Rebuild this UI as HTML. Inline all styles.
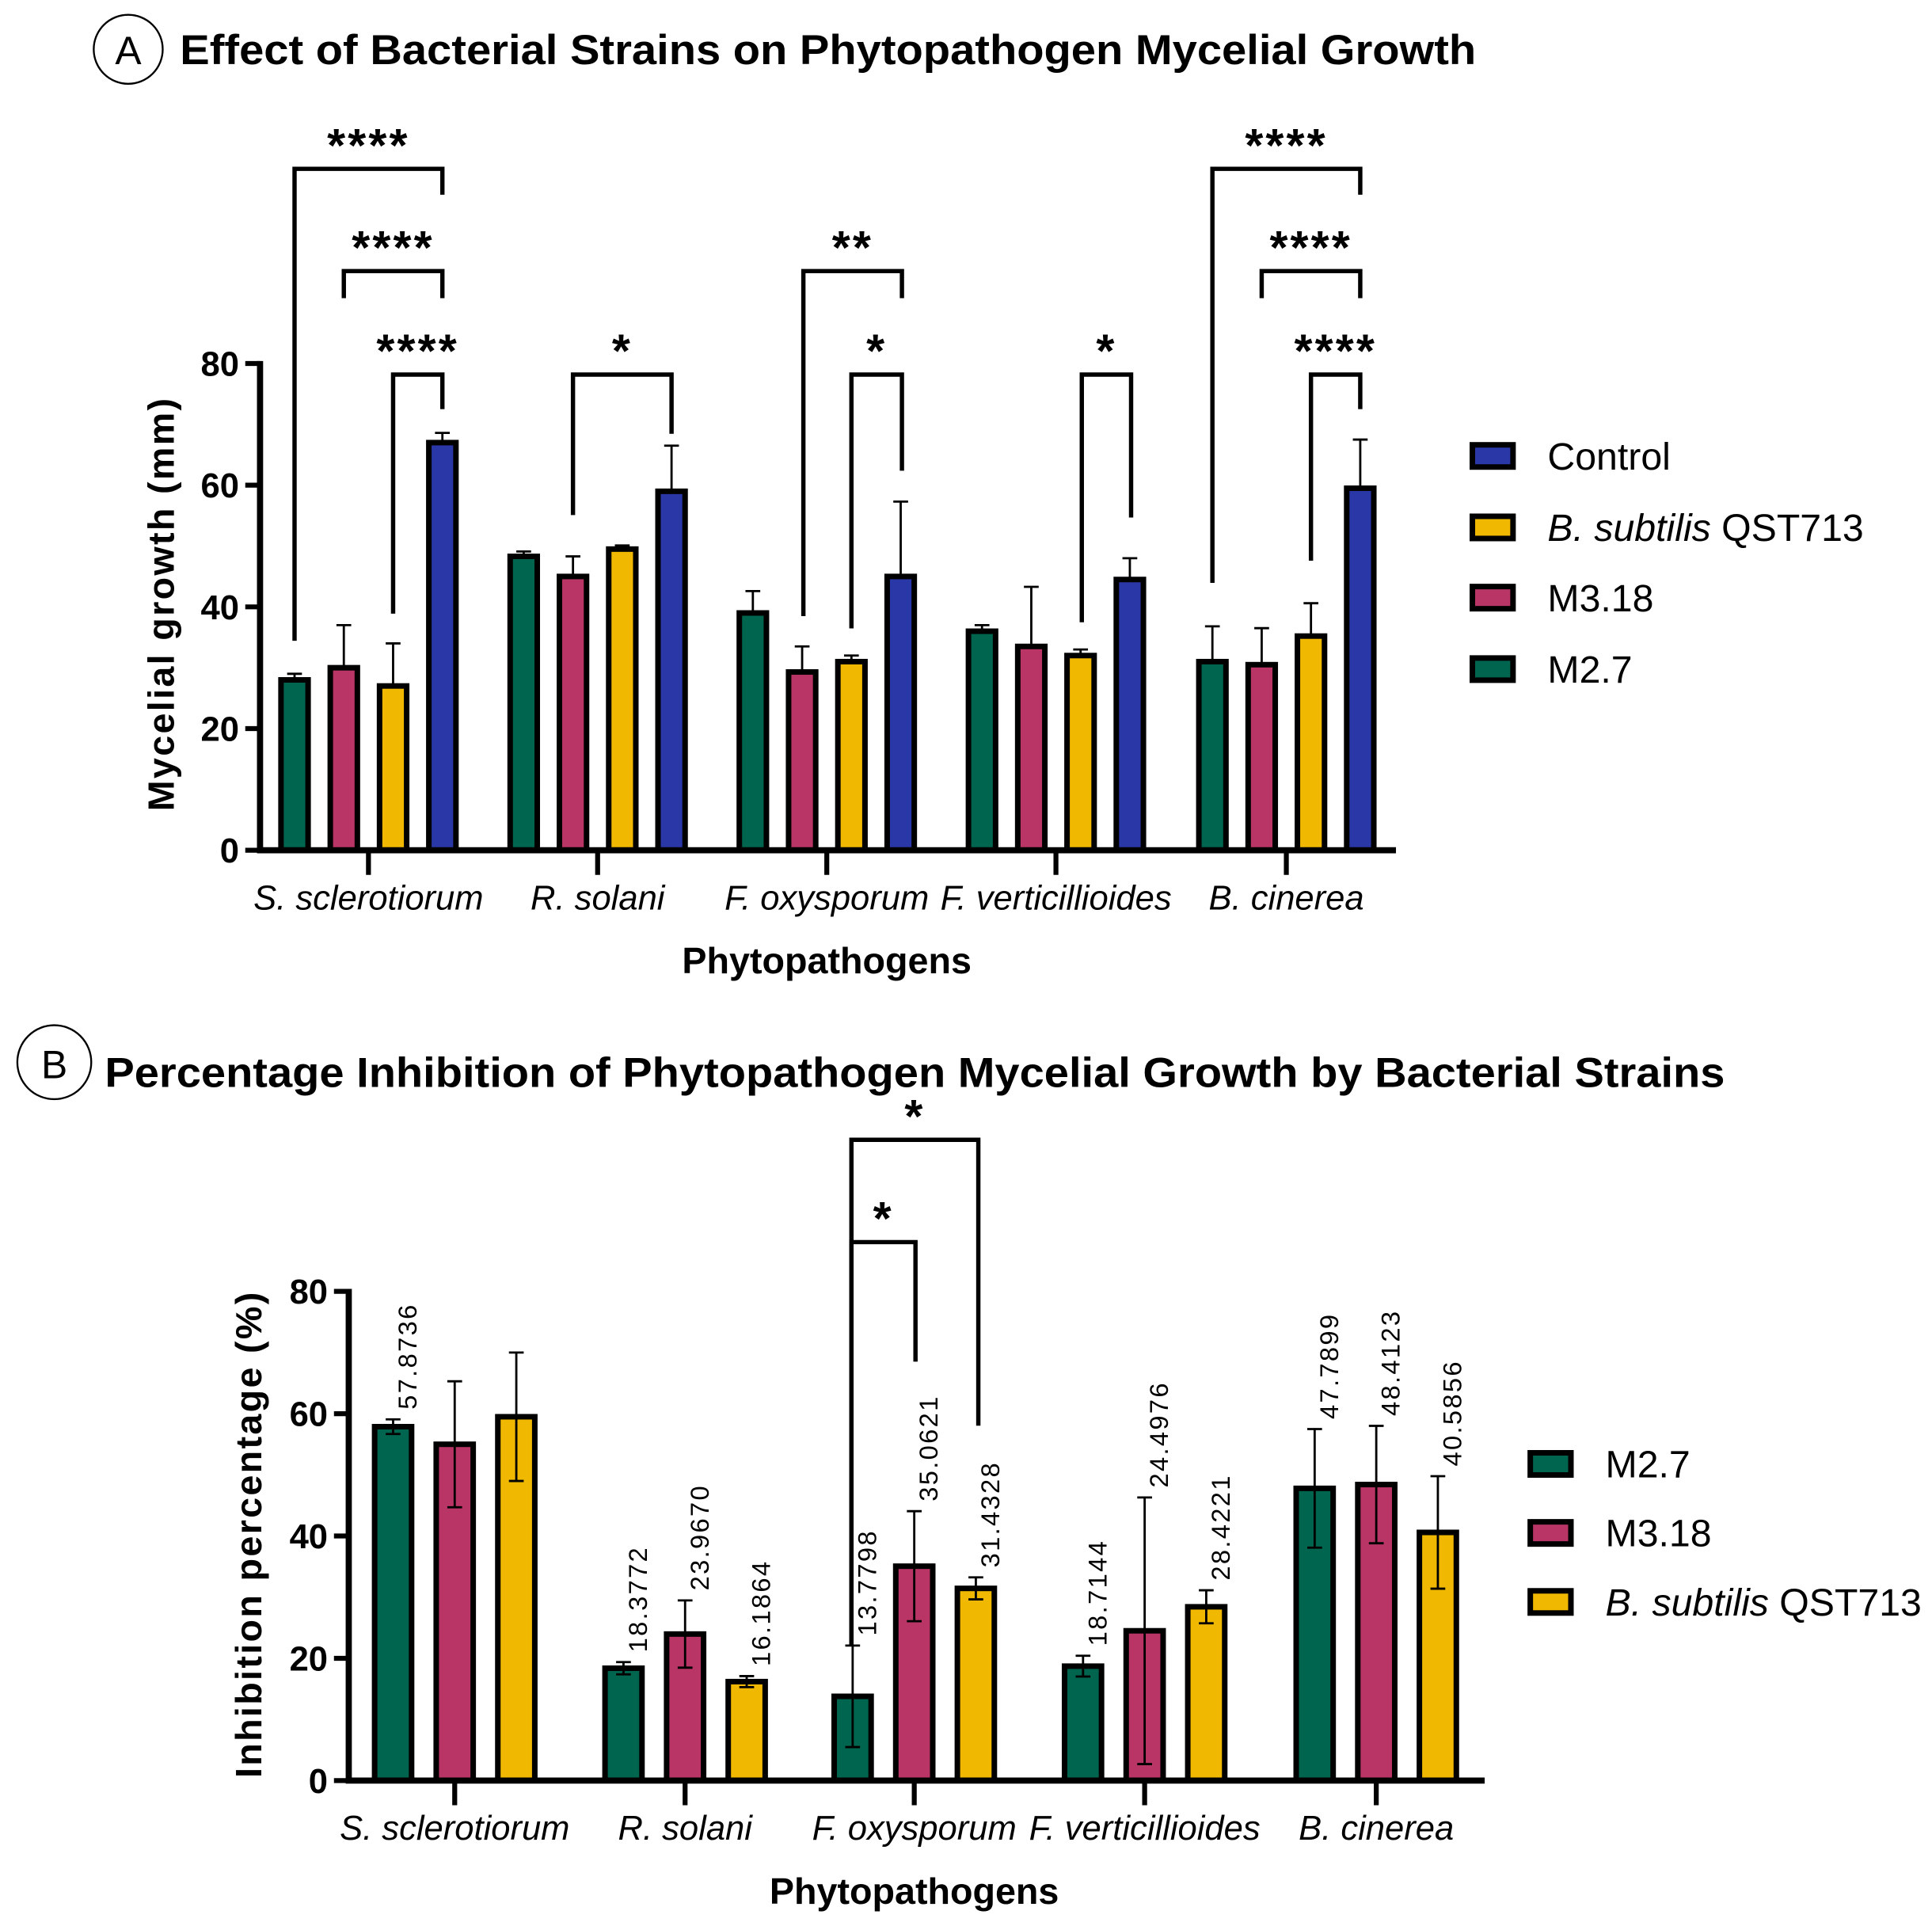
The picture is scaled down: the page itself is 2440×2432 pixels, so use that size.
<!DOCTYPE html>
<html><head><meta charset="utf-8"><style>
html,body{margin:0;padding:0;background:#fff}
svg{display:block}
text{font-family:"Liberation Sans",sans-serif;fill:#000}
</style></head><body>
<svg id="chart" width="2440" height="2432" viewBox="0 0 1568 1563" xmlns="http://www.w3.org/2000/svg">
<g>
<circle cx="104" cy="40" r="28" fill="none" stroke="#000" stroke-width="1.5"/>
<text x="104" y="52" font-size="32" text-anchor="middle">A</text>
<text x="146" y="52" font-size="34" font-weight="bold" textLength="1052" lengthAdjust="spacingAndGlyphs">Effect of Bacterial Strains on Phytopathogen Mycelial Growth</text>
</g>
<g>
<circle cx="44" cy="862" r="30" fill="none" stroke="#000" stroke-width="1.5"/>
<text x="44" y="875" font-size="32" text-anchor="middle">B</text>
<text x="85" y="882" font-size="34" font-weight="bold" textLength="1315" lengthAdjust="spacingAndGlyphs">Percentage Inhibition of Phytopathogen Mycelial Growth by Bacterial Strains</text>
</g>
<g id="pa"></g>
<g id="pb"></g>
</svg>
<script>
const categories = ["S. sclerotiorum","R. solani","F. oxysporum","F. verticillioides","B. cinerea"];
const aSeries = ["M2.7","M3.18","B. subtilis QST713","Control"];
const aM27 = [28,48.3,39,36,31];
const aM27Err = [1,0.8,3.6,1,5.8];
const aM318 = [30,45,29.3,33.5,30.5];
const aM318Err = [7,3.3,4.2,9.8,6];
const aQST = [27,49.5,31,32,35.2];
const aQSTErr = [7,0.6,1,1,5.4];
const aCtrl = [67,59,45,44.5,59.5];
const aCtrlErr = [1.6,7.5,12.3,3.5,8];
const aTicks = [0,20,40,60,80];
const bM27 = [57.8736,18.3772,13.7798,18.7144,47.7899];
const bM27Err = [1.2,1,8.3,1.7,9.7];
const bM318 = [55,23.9670,35.0621,24.4976,48.4123];
const bM318Err = [10.3,5.5,9,21.8,9.6];
const bQST = [59.5,16.1864,31.4328,28.4221,40.5856];
const bQSTErr = [10.5,0.9,1.8,2.7,9.2];
const bLabelM27 = ["57.8736","18.3772","13.7798","18.7144","47.7899"];
const bLabelM318 = ["","23.9670","35.0621","24.4976","48.4123"];
const bLabelQST = ["","16.1864","31.4328","28.4221","40.5856"];
const bTicks = [0,20,40,60,80];
const COL = {g:"#00654f",p:"#b93566",y:"#f0b800",b:"#2a37a6"};
const NS="http://www.w3.org/2000/svg";
function mk(parent,tag,attrs,txt){const e=document.createElementNS(NS,tag);for(const k in attrs)e.setAttribute(k,attrs[k]);if(txt!==undefined)e.textContent=txt;parent.appendChild(e);return e;}

function drawPanel(g,cfg){
  const y=v=>cfg.y0-(v/80)*(cfg.y0-cfg.y80);
  cfg.series.forEach((s,si)=>{
    categories.forEach((c,ci)=>{
      const cx=cfg.centers[ci]+cfg.offsets[si];
      const v=s.vals[ci],e=s.err[ci];
      const bar=mk(g,"rect",{x:cx-cfg.bw/2,y:y(v),width:cfg.bw,height:cfg.y0-y(v),fill:s.color,stroke:"#000","stroke-width":4.5});
      
      
      const top=y(v+e), bot=cfg.twoSided?y(v-e):y(v);
      const eb=mk(g,"path",{d:`M${cx},${top}V${bot}M${cx-6},${top}H${cx+6}`+(cfg.twoSided?`M${cx-6},${bot}H${cx+6}`:""),stroke:"#000","stroke-width":1.8,fill:"none"});
      
      
      if(s.labels&&s.labels[ci]){
        const lx=cx+19,ly=top-8;
        const t=mk(g,"text",{x:lx,y:ly,"font-size":21,transform:`rotate(-90 ${lx} ${ly})`,"letter-spacing":"1.5"},s.labels[ci]);
        
        
      }
    });
  });
  const ax=mk(g,"path",{d:`M${cfg.ax},${cfg.y80-2}V${cfg.y0}H${cfg.xEnd}`,stroke:"#000","stroke-width":5,fill:"none"});
  
  
  cfg.ticks.forEach(t=>{
    mk(g,"line",{x1:cfg.ax-12,x2:cfg.ax,y1:y(t),y2:y(t),stroke:"#000","stroke-width":4});
    const tl=mk(g,"text",{x:cfg.ax-17,y:y(t)+10,"font-size":28,"font-weight":"bold","text-anchor":"end"},t);
    
    
  });
  categories.forEach((c,ci)=>{
    mk(g,"line",{x1:cfg.centers[ci],x2:cfg.centers[ci],y1:cfg.y0,y2:cfg.y0+20,stroke:"#000","stroke-width":4});
    const xl=mk(g,"text",{x:cfg.centers[ci],y:cfg.y0+48,"font-size":28,"font-style":"italic","text-anchor":"middle"},c);
    
    
  });
  const xt=mk(g,"text",{x:cfg.xTitleX,y:cfg.y0+100,"font-size":30,"font-weight":"bold","text-anchor":"middle"},"Phytopathogens");
  
  
  const yt=mk(g,"text",{x:cfg.yTitleX,y:cfg.yTitleY,"font-size":30,"font-weight":"bold","text-anchor":"middle","letter-spacing":"1.5",transform:`rotate(-90 ${cfg.yTitleX} ${cfg.yTitleY})`},cfg.yTitle);
  
  
  cfg.brackets.forEach(b=>{
    const p=mk(g,"path",{d:`M${b[0]},${b[3]}V${b[2]}H${b[1]}V${b[4]}`,stroke:"#000","stroke-width":3.5,fill:"none"});
    
    
    const s=mk(g,"text",{x:(b[0]+b[1])/2,y:b[2]-6,"font-size":38,"font-weight":"bold","text-anchor":"middle","letter-spacing":"2"},b[5]);
    
    
  });
  cfg.legend.forEach((l,i)=>{
    const ly=cfg.legY[i];
    const r=mk(g,"rect",{x:cfg.legX,y:ly-9,width:33,height:18,fill:l.color,stroke:"#000","stroke-width":4.5});
    
    
    const t=mk(g,"text",{x:cfg.legX+61,y:ly+11,"font-size":31},"");
    
    
    if(l.name.startsWith("B. subtilis")){
      mk(t,"tspan",{"font-style":"italic"},"B. subtilis");
      mk(t,"tspan",{},"\u00a0QST713");
    } else t.textContent=l.name;
  });
}

drawPanel(document.getElementById("pa"),{
  y0:690,y80:295,ax:211,xEnd:1133,bw:22,twoSided:false,
  centers:[299,485,671,857,1044],offsets:[-60,-20,20,60],
  series:[{key:"m27",vals:aM27,err:aM27Err,color:COL.g},{key:"m318",vals:aM318,err:aM318Err,color:COL.p},{key:"qst",vals:aQST,err:aQSTErr,color:COL.y},{key:"control",vals:aCtrl,err:aCtrlErr,color:COL.b}],
  ticks:aTicks,xTitleX:671,yTitleX:141,yTitleY:490,yTitle:"Mycelial growth (mm)",
  brackets:[[239,359,137,520,158,"****"],[279,359,220,242,242,"****"],[319,359,304,498,332,"****"],
    [465,545,304,418,352,"*"],[652,732,220,500,242,"**"],[691,732,304,510,382,"*"],[878,918,304,505,420,"*"],
    [984,1104,137,473,158,"****"],[1024,1104,220,242,242,"****"],[1064,1104,304,455,332,"****"]],
  legX:1195,legY:[370,428,485,543],
  legend:[{name:"Control",color:COL.b},{name:"B. subtilis QST713",color:COL.y},{name:"M3.18",color:COL.p},{name:"M2.7",color:COL.g}]
});
drawPanel(document.getElementById("pb"),{
  y0:1445,y80:1048,ax:283,xEnd:1205,bw:30,twoSided:true,
  centers:[369,556,742,929,1117],offsets:[-50,0,50],
  series:[{key:"m27",vals:bM27,err:bM27Err,color:COL.g,labels:bLabelM27},{key:"m318",vals:bM318,err:bM318Err,color:COL.p,labels:bLabelM318},{key:"qst",vals:bQST,err:bQSTErr,color:COL.y,labels:bLabelQST}],
  ticks:bTicks,xTitleX:742,yTitleX:212,yTitleY:1245,yTitle:"Inhibition percentage (%)",
  brackets:[[691,743,1008,1335,1105,"*"],[691,794,925,1335,1157,"*"]],
  legX:1242,legY:[1188,1244,1300],
  legend:[{name:"M2.7",color:COL.g},{name:"M3.18",color:COL.p},{name:"B. subtilis QST713",color:COL.y}]
});
</script>
</body></html>
